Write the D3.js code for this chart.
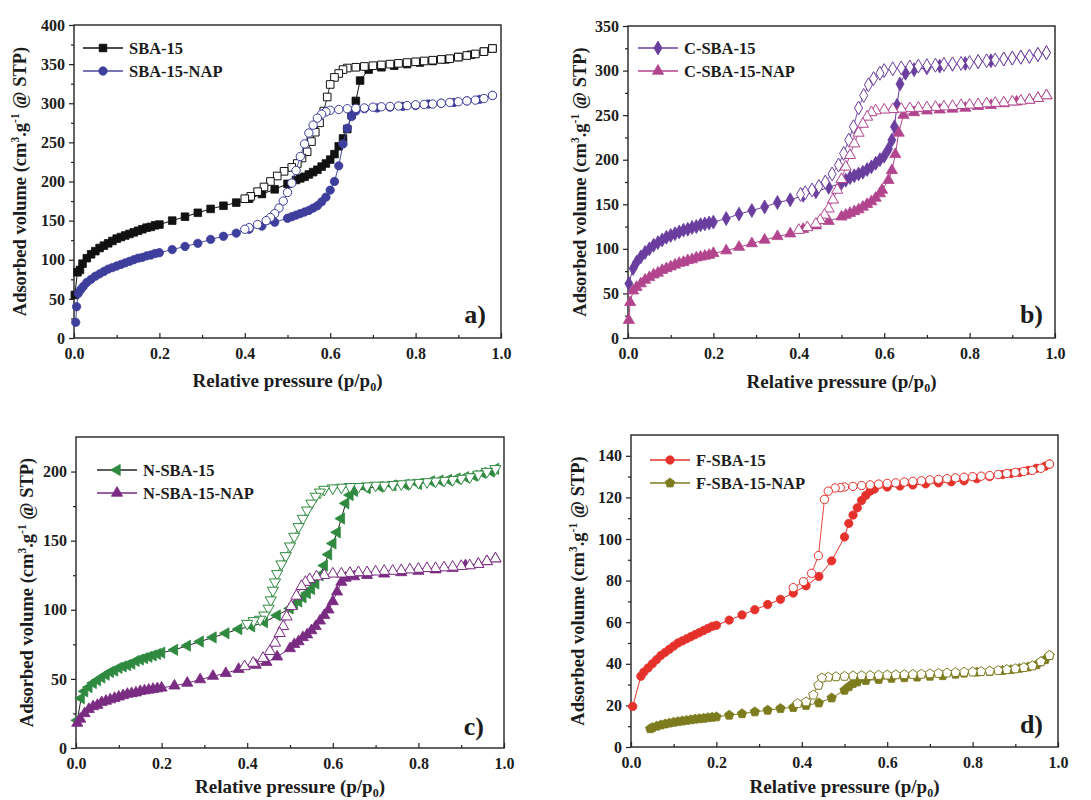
<!DOCTYPE html>
<html>
<head>
<meta charset="utf-8">
<script src="https://cdn.jsdelivr.net/npm/d3@7"></script>
<style>
  body { margin: 0; background: #fff; }
  svg { display: block; }
  text { font-family: "Liberation Serif", "Times New Roman", serif; font-weight: bold; fill: #1c1c1c; }
</style>
</head>
<body>
<svg id="chart" width="1091" height="800"></svg>
<script>
// ---------- N2 isotherms: [relative pressure p/p0, adsorbed volume cm3/g STP] ----------

// (a) SBA-15 / SBA-15-NAP
const sbaAds = [[0.002,55],[0.008,84],[0.014,87],[0.02,95],[0.03,102],[0.04,107],[0.05,111],[0.06,115],[0.07,118],[0.08,121],[0.09,124],[0.10,127],[0.11,129],[0.12,131],[0.13,133],[0.14,135],[0.15,137],[0.16,139],[0.17,141],[0.18,142],[0.19,144],[0.20,145],[0.23,150],[0.26,155],[0.29,160],[0.32,165],[0.35,169],[0.38,173],[0.41,178],[0.44,184],[0.47,190],[0.50,197],[0.52,202],[0.53,204],[0.54,206],[0.55,209],[0.56,212],[0.57,215],[0.58,219],[0.59,223],[0.60,228],[0.61,235],[0.62,245],[0.63,255],[0.64,267],[0.65,285],[0.66,303],[0.67,329],[0.69,343],[0.72,346],[0.75,348],[0.78,350],[0.81,352],[0.84,354],[0.87,356],[0.90,359],[0.93,362],[0.96,366],[0.98,370]];
const sbaDes = [[0.98,370],[0.96,366],[0.94,363],[0.92,361],[0.90,359],[0.88,357],[0.86,356],[0.84,355],[0.82,354],[0.80,353],[0.78,352],[0.76,351],[0.74,350],[0.72,349],[0.70,348],[0.68,347],[0.66,346],[0.64,345],[0.63,343],[0.62,338],[0.61,333],[0.60,324],[0.593,308],[0.585,290],[0.575,275],[0.565,263],[0.556,251],[0.546,238],[0.534,230],[0.523,223],[0.51,218],[0.492,213],[0.476,207],[0.46,200],[0.445,193],[0.43,187],[0.414,181],[0.40,178]];
const sbaNapAds = [[0.004,20],[0.006,40],[0.01,57],[0.016,62],[0.022,66],[0.03,71],[0.04,75],[0.05,79],[0.06,82],[0.07,85],[0.08,88],[0.09,90],[0.10,92],[0.11,94],[0.12,96],[0.13,98],[0.14,100],[0.15,102],[0.16,103],[0.17,105],[0.18,106],[0.19,108],[0.20,109],[0.23,113],[0.26,117],[0.29,121],[0.32,126],[0.35,130],[0.38,134],[0.41,139],[0.44,143],[0.47,148],[0.50,153],[0.51,155],[0.52,157],[0.53,159],[0.54,161],[0.55,163],[0.56,166],[0.57,169],[0.58,174],[0.59,180],[0.60,189],[0.61,200],[0.62,220],[0.63,248],[0.64,268],[0.65,283],[0.66,290],[0.68,293],[0.71,294],[0.74,295],[0.77,296],[0.80,297],[0.83,299],[0.86,300],[0.89,301],[0.92,303],[0.95,305],[0.98,310]];
const sbaNapDes = [[0.98,310],[0.96,306],[0.94,304],[0.92,303],[0.90,302],[0.88,301],[0.86,300],[0.84,299],[0.82,298.5],[0.80,298],[0.78,297],[0.76,296.5],[0.74,296],[0.72,295.5],[0.70,295],[0.68,294],[0.66,293.5],[0.64,293],[0.62,292],[0.60,291],[0.59,289],[0.58,286],[0.57,281],[0.56,272],[0.55,262],[0.54,248],[0.53,232],[0.52,214],[0.51,198],[0.50,186],[0.49,175],[0.48,166],[0.47,159],[0.46,154],[0.45,150],[0.43,145],[0.41,141],[0.40,139]];

// (b) C-SBA-15 / C-SBA-15-NAP
const cAds = [[0.002,61],[0.012,78],[0.02,85],[0.03,91],[0.04,96],[0.05,100],[0.06,104],[0.07,107],[0.08,110],[0.09,113],[0.10,115],[0.11,117],[0.12,119],[0.13,121],[0.14,122],[0.15,124],[0.16,125],[0.17,127],[0.18,128],[0.19,129],[0.20,130],[0.23,134],[0.26,139],[0.29,143],[0.32,147],[0.35,152],[0.38,155],[0.41,160],[0.44,164],[0.47,169],[0.50,174],[0.51,177],[0.52,180],[0.53,182],[0.54,184],[0.55,186],[0.56,189],[0.57,192],[0.58,196],[0.59,200],[0.60,204],[0.61,212],[0.618,222],[0.624,237],[0.63,261],[0.637,285],[0.65,297],[0.67,301],[0.70,303],[0.73,305],[0.76,307],[0.79,308],[0.82,310],[0.85,311],[0.88,313],[0.90,314],[0.92,315],[0.94,316],[0.96,318],[0.98,320]];
const cDes = [[0.98,320],[0.96,318],[0.94,316],[0.92,315],[0.90,314],[0.88,313],[0.86,312],[0.84,311],[0.82,310],[0.80,309],[0.78,308],[0.76,307.5],[0.74,307],[0.72,306],[0.70,305.5],[0.68,305],[0.66,304],[0.64,303],[0.62,302],[0.60,300],[0.59,297],[0.575,291],[0.563,284],[0.552,272],[0.54,258],[0.528,237],[0.517,222],[0.505,207],[0.493,194],[0.478,184],[0.462,175],[0.447,170],[0.431,166],[0.415,163],[0.404,161]];
const cNapAds = [[0.002,20],[0.005,40],[0.012,53],[0.02,57],[0.03,61],[0.04,65],[0.05,68],[0.06,71],[0.07,73],[0.08,76],[0.09,78],[0.10,80],[0.11,82],[0.12,84],[0.13,85],[0.14,87],[0.15,88],[0.16,90],[0.17,91],[0.18,92],[0.19,93],[0.20,95],[0.23,98],[0.26,102],[0.29,106],[0.32,110],[0.35,114],[0.38,117],[0.41,122],[0.44,126],[0.47,131],[0.50,136],[0.51,138],[0.52,140],[0.53,142],[0.54,144],[0.55,147],[0.56,150],[0.57,153],[0.58,157],[0.59,162],[0.595,166],[0.61,177],[0.618,188],[0.626,206],[0.634,230],[0.645,250],[0.67,253],[0.70,255],[0.73,256],[0.76,257],[0.79,258],[0.82,260],[0.85,261],[0.88,263],[0.91,265],[0.94,267],[0.96,269],[0.98,272]];
const cNapDes = [[0.98,272],[0.96,269],[0.94,267],[0.92,266],[0.90,265],[0.88,264],[0.86,263.5],[0.84,263],[0.82,262],[0.80,261.5],[0.78,261],[0.76,260],[0.74,259.5],[0.72,259],[0.70,258.5],[0.68,258],[0.66,257.5],[0.64,257],[0.62,256.5],[0.60,256],[0.58,255],[0.57,253],[0.56,248],[0.55,240],[0.54,230],[0.53,218],[0.52,205],[0.51,192],[0.50,178],[0.49,166],[0.48,155],[0.47,145],[0.46,138],[0.45,132],[0.44,128],[0.42,124],[0.40,121]];

// (c) N-SBA-15 / N-SBA-15-NAP
const nAds = [[0.003,20],[0.012,36],[0.02,41],[0.03,44],[0.04,47],[0.05,49],[0.06,51],[0.07,53],[0.08,55],[0.09,56],[0.10,58],[0.11,59],[0.12,60],[0.13,61],[0.14,63],[0.15,64],[0.16,65],[0.17,66],[0.18,67],[0.19,68],[0.20,69],[0.23,71],[0.26,74],[0.29,77],[0.32,80],[0.35,83],[0.38,86],[0.41,88],[0.44,91],[0.47,96],[0.50,101],[0.51,104],[0.52,106],[0.53,109],[0.54,112],[0.55,115],[0.56,119],[0.57,125],[0.58,132],[0.59,140],[0.60,148],[0.61,156],[0.62,166],[0.63,177],[0.64,183],[0.65,186],[0.68,188],[0.71,189],[0.74,190],[0.77,190.5],[0.80,191],[0.83,193],[0.85,193.5],[0.87,194],[0.89,195],[0.91,196],[0.93,197],[0.95,199],[0.97,200],[0.98,202]];
const nDes = [[0.98,202],[0.96,200],[0.94,198],[0.92,196],[0.90,195],[0.88,194],[0.86,193.5],[0.84,193],[0.82,192.5],[0.80,192],[0.78,191.5],[0.76,191],[0.74,190.5],[0.72,190],[0.70,190],[0.68,189.5],[0.66,189],[0.64,189],[0.62,188.5],[0.60,188],[0.58,187],[0.57,185],[0.56,182],[0.55,177],[0.54,172],[0.53,166],[0.52,160],[0.51,153],[0.50,146],[0.49,139],[0.48,133],[0.47,126],[0.465,120],[0.46,114],[0.455,107],[0.45,101],[0.44,96],[0.43,93],[0.415,92],[0.40,90]];
const nNapAds = [[0.003,18],[0.01,21],[0.02,25],[0.03,28],[0.04,30],[0.05,31],[0.06,33],[0.07,34],[0.08,35],[0.09,36],[0.10,37],[0.11,38],[0.12,39],[0.13,39.5],[0.14,40],[0.15,41],[0.16,41.5],[0.17,42],[0.18,42.5],[0.19,43],[0.20,43.5],[0.23,45],[0.26,47],[0.29,49.5],[0.32,52],[0.35,54],[0.38,57],[0.42,60],[0.445,62],[0.47,66],[0.50,72],[0.51,75],[0.52,77],[0.53,80],[0.54,82],[0.55,85],[0.56,88],[0.57,92],[0.58,96],[0.59,100],[0.60,106],[0.61,113],[0.62,120],[0.63,123],[0.65,124],[0.68,125],[0.72,126],[0.76,127],[0.80,128],[0.84,129],[0.88,130],[0.91,132],[0.94,133],[0.96,135],[0.98,137]];
const nNapDes = [[0.98,137],[0.96,135],[0.94,133],[0.92,132],[0.90,131.5],[0.88,131],[0.86,130.5],[0.84,130],[0.82,130],[0.80,129.5],[0.78,129],[0.76,128.5],[0.74,128],[0.72,128],[0.70,127.5],[0.68,127],[0.66,127],[0.64,126.5],[0.62,126],[0.60,126],[0.58,125],[0.562,124],[0.546,122],[0.536,120],[0.527,117],[0.515,110],[0.503,102.5],[0.492,95],[0.484,88],[0.476,83],[0.465,76],[0.453,70],[0.437,65],[0.414,61.5],[0.394,59]];

// (d) F-SBA-15 / F-SBA-15-NAP
const fAds = [[0.004,19.5],[0.023,34],[0.03,36],[0.04,38],[0.05,40],[0.06,42],[0.07,44],[0.08,45.5],[0.09,47],[0.10,48.5],[0.11,50],[0.12,51],[0.13,52],[0.14,53],[0.15,54],[0.16,55],[0.17,56],[0.18,57],[0.19,58],[0.20,58.5],[0.23,61],[0.26,63.5],[0.29,66],[0.32,68.5],[0.35,71],[0.38,74],[0.41,77.5],[0.44,82],[0.47,89.5],[0.50,101],[0.51,107.5],[0.52,111.5],[0.53,115],[0.54,118.5],[0.55,121],[0.56,123],[0.57,124],[0.60,125],[0.63,125.5],[0.66,126],[0.69,126.5],[0.72,127],[0.75,127.5],[0.78,128],[0.81,129],[0.84,130],[0.87,131],[0.89,131.5],[0.91,132],[0.93,133],[0.95,134],[0.97,135],[0.98,136]];
const fDes = [[0.98,136],[0.96,134],[0.94,133],[0.92,132.5],[0.90,132],[0.88,131.5],[0.86,131],[0.84,130.5],[0.82,130.2],[0.80,130],[0.78,129.7],[0.76,129.4],[0.74,129],[0.72,128.7],[0.70,128.4],[0.68,128],[0.66,127.7],[0.64,127.4],[0.62,127],[0.60,126.7],[0.58,126.4],[0.56,126],[0.54,125.7],[0.52,125.3],[0.50,125],[0.49,124.7],[0.478,124.5],[0.462,123],[0.453,119],[0.439,92],[0.423,83.5],[0.404,79.5],[0.38,76.6]];
const fNapAds = [[0.045,8.8],[0.05,9.3],[0.06,10],[0.07,10.6],[0.08,11.1],[0.09,11.5],[0.10,11.9],[0.11,12.2],[0.12,12.5],[0.13,12.8],[0.14,13.1],[0.15,13.4],[0.16,13.6],[0.17,13.8],[0.18,14.1],[0.19,14.3],[0.20,14.5],[0.23,15.3],[0.26,16],[0.29,16.9],[0.32,17.7],[0.35,18.5],[0.38,19],[0.41,20],[0.44,21.2],[0.47,23.6],[0.50,27.3],[0.51,29],[0.52,30.5],[0.53,31.3],[0.55,32],[0.58,32.5],[0.61,33],[0.64,33.3],[0.67,33.6],[0.70,34],[0.73,34.3],[0.76,35],[0.78,35.5],[0.81,36],[0.84,36.3],[0.87,36.8],[0.89,37.2],[0.91,37.8],[0.93,38.5],[0.95,39.5],[0.96,41],[0.97,42],[0.98,44]];
const fNapDes = [[0.98,44],[0.96,41],[0.94,39],[0.92,38.2],[0.90,37.6],[0.88,37.2],[0.86,36.8],[0.84,36.5],[0.82,36.3],[0.80,36.1],[0.78,36],[0.76,35.8],[0.74,35.6],[0.72,35.4],[0.70,35.2],[0.68,35],[0.66,34.9],[0.64,34.8],[0.62,34.7],[0.60,34.6],[0.58,34.5],[0.56,34.4],[0.54,34.3],[0.52,34.2],[0.50,34],[0.48,33.8],[0.462,33.6],[0.447,33.2],[0.439,29.7],[0.427,25],[0.41,21.7],[0.39,20.9]];

// Axis ticks
const xTicks = [0, 0.2, 0.4, 0.6, 0.8, 1.0];
const xMinorTicks = [0.1, 0.3, 0.5, 0.7, 0.9];
const yTicksA = [0, 50, 100, 150, 200, 250, 300, 350, 400];
const yTicksB = [0, 50, 100, 150, 200, 250, 300, 350];
const yTicksC = [0, 50, 100, 150, 200];
const yTicksD = [0, 20, 40, 60, 80, 100, 120, 140];

// ---------- drawing ----------
const svg = d3.select("#chart");

// pentagon marker for d3.symbol
const symbolPentagon = {
  draw(ctx, size) {
    const r = Math.sqrt(size / (2.5 * Math.sin(2 * Math.PI / 5)));
    for (let k = 0; k < 5; k++) {
      const a = -Math.PI / 2 + k * 2 * Math.PI / 5;
      const px = r * Math.cos(a), py = r * Math.sin(a);
      if (k === 0) ctx.moveTo(px, py); else ctx.lineTo(px, py);
    }
    ctx.closePath();
  }
};

const shapes = {
  square:   { type: d3.symbolSquare,   size: 58, rot: 0 },
  circle:   { type: d3.symbolCircle,   size: 55, rot: 0 },
  diamond:  { type: d3.symbolDiamond,  size: 56, rot: 0 },
  triUp:    { type: d3.symbolTriangle, size: 54, rot: 0 },
  triDown:  { type: d3.symbolTriangle, size: 54, rot: 180 },
  triLeft:  { type: d3.symbolTriangle, size: 54, rot: -90 },
  pentagon: { type: symbolPentagon,    size: 58, rot: 0 }
};

function marker(sel, shapeName, cx, cy, color, open) {
  const s = shapes[shapeName];
  sel.append("path")
    .attr("d", d3.symbol(s.type, s.size)())
    .attr("transform", `translate(${cx},${cy}) rotate(${s.rot})`)
    .attr("fill", open ? "#fff" : color)
    .attr("stroke", color)
    .attr("stroke-width", open ? 1 : 0.8);
}

const panels = [
  { left: 74, right: 501, top: 25, bottom: 338, yMax: 400, yTicks: yTicksA, yMinor: d3.range(25, 400, 50),
    tag: "a)", tagX: 486, tagY: 323, titleX: 26, xTitleY: 387, legX: 83, legY: 48,
    samples: [
      { name: "SBA-15", ads: sbaAds, des: sbaDes, color: "#111111", line: "#111111", shape: "square", openShape: "square" },
      { name: "SBA-15-NAP", ads: sbaNapAds, des: sbaNapDes, color: "#3e3e9c", line: "#4a4a9e", shape: "circle", openShape: "circle" }
    ] },
  { left: 628, right: 1055, top: 26, bottom: 338, yMax: 350, yTicks: yTicksB, yMinor: d3.range(25, 350, 50),
    tag: "b)", tagX: 1043, tagY: 323, titleX: 586, xTitleY: 388, legX: 638, legY: 48,
    samples: [
      { name: "C-SBA-15", ads: cAds, des: cDes, color: "#6a3e9e", line: "#6a3e9e", shape: "diamond", openShape: "diamond" },
      { name: "C-SBA-15-NAP", ads: cNapAds, des: cNapDes, color: "#b2458e", line: "#b2458e", shape: "triUp", openShape: "triUp" }
    ] },
  { left: 76, right: 504, top: 437, bottom: 748, yMax: 225, yTicks: yTicksC, yMinor: d3.range(25, 225, 50),
    tag: "c)", tagX: 484, tagY: 735, titleX: 33, xTitleY: 793, legX: 97, legY: 470,
    samples: [
      { name: "N-SBA-15", ads: nAds, des: nDes, color: "#2f8a40", line: "#1f2a20", shape: "triLeft", openShape: "triDown" },
      { name: "N-SBA-15-NAP", ads: nNapAds, des: nNapDes, color: "#7a2b82", line: "#7a2b82", shape: "triUp", openShape: "triUp" }
    ] },
  { left: 631, right: 1058, top: 435, bottom: 747, yMax: 150, yTicks: yTicksD, yMinor: d3.range(10, 150, 20),
    tag: "d)", tagX: 1043, tagY: 733, titleX: 584, xTitleY: 793, legX: 650, legY: 460,
    samples: [
      { name: "F-SBA-15", ads: fAds, des: fDes, color: "#e5312b", line: "#e5312b", shape: "circle", openShape: "circle" },
      { name: "F-SBA-15-NAP", ads: fNapAds, des: fNapDes, color: "#7c7c1f", line: "#7c7c1f", shape: "pentagon", openShape: "pentagon" }
    ] }
];

function drawPanel(p) {
  const g = svg.append("g");
  const x = d3.scaleLinear().domain([0, 1]).range([p.left, p.right]);
  const y = d3.scaleLinear().domain([0, p.yMax]).range([p.bottom, p.top]);

  // minor ticks
  g.append("g").attr("transform", `translate(${p.left},0)`)
    .call(d3.axisLeft(y).tickValues(p.yMinor).tickSize(3).tickFormat(""))
    .call(s => s.select(".domain").remove());
  g.append("g").attr("transform", `translate(0,${p.bottom})`)
    .call(d3.axisBottom(x).tickValues(xMinorTicks).tickSize(-3).tickFormat(""))
    .call(s => s.select(".domain").remove());

  // major ticks
  const ya = g.append("g").attr("transform", `translate(${p.left},0)`)
    .call(d3.axisLeft(y).tickValues(p.yTicks).tickSize(5).tickPadding(4).tickFormat(d3.format("d")));
  const xa = g.append("g").attr("transform", `translate(0,${p.bottom})`)
    .call(d3.axisBottom(x).tickValues(xTicks).tickSize(-5).tickPadding(10).tickFormat(d3.format(".1f")));
  [ya, xa].forEach(a => {
    a.select(".domain").remove();
    a.selectAll("text").attr("font-size", 16).attr("font-family", null).attr("fill", "#1c1c1c");
  });
  g.selectAll(".tick line").attr("stroke", "#222").attr("stroke-width", 1.2);

  // frame
  g.append("rect")
    .attr("x", p.left).attr("y", p.top)
    .attr("width", p.right - p.left).attr("height", p.bottom - p.top)
    .attr("fill", "none").attr("stroke", "#222").attr("stroke-width", 1.4);

  // curves: adsorption (filled) then desorption (open)
  const line = d3.line().x(d => x(d[0])).y(d => y(d[1]));
  p.samples.forEach(s => {
    g.append("path").datum(s.ads).attr("d", line)
      .attr("fill", "none").attr("stroke", s.line).attr("stroke-width", 1);
    const ms = g.append("g");
    s.ads.forEach(d => marker(ms, s.shape, x(d[0]), y(d[1]), s.color, false));
  });
  p.samples.forEach(s => {
    g.append("path").datum(s.des).attr("d", line)
      .attr("fill", "none").attr("stroke", s.color).attr("stroke-width", 0.9);
    const ms = g.append("g");
    s.des.forEach(d => marker(ms, s.openShape, x(d[0]), y(d[1]), s.color, true));
  });

  // legend
  p.samples.forEach((s, i) => {
    const ly = p.legY + i * 23;
    g.append("line").attr("x1", p.legX).attr("x2", p.legX + 40)
      .attr("y1", ly).attr("y2", ly).attr("stroke", s.line).attr("stroke-width", 1.5);
    marker(g, s.shape, p.legX + 20, ly, s.color, false);
    g.append("text").attr("x", p.legX + 46).attr("y", ly + 5.5)
      .attr("font-size", 16.5).text(s.name);
  });

  // panel tag
  g.append("text").attr("x", p.tagX).attr("y", p.tagY)
    .attr("text-anchor", "end").attr("font-size", 26).text(p.tag);

  // axis titles
  const xt = g.append("text").attr("x", (p.left + p.right) / 2).attr("y", p.xTitleY)
    .attr("text-anchor", "middle").attr("font-size", 19);
  xt.append("tspan").text("Relative pressure (p/p");
  xt.append("tspan").attr("font-size", 12).attr("dy", 4).text("0");
  xt.append("tspan").attr("dy", -4).text(")");

  const yt = g.append("text")
    .attr("transform", `translate(${p.titleX},${(p.top + p.bottom) / 2}) rotate(-90)`)
    .attr("text-anchor", "middle").attr("font-size", 18.5);
  yt.append("tspan").text("Adsorbed volume (cm");
  yt.append("tspan").attr("font-size", 11.5).attr("dy", -7).text("3");
  yt.append("tspan").attr("dy", 7).text(".g");
  yt.append("tspan").attr("font-size", 11.5).attr("dy", -7).text("-1");
  yt.append("tspan").attr("dy", 7).text(" @ STP)");
}

panels.forEach(drawPanel);
</script>
</body>
</html>
